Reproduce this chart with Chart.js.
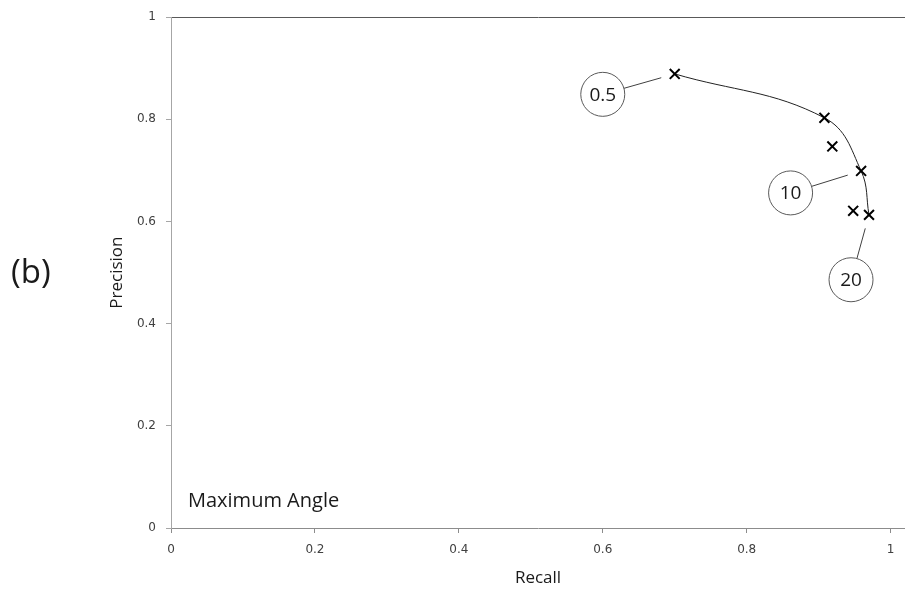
<!DOCTYPE html>
<html>
<head>
<meta charset="utf-8">
<script src="https://cdn.jsdelivr.net/npm/chart.js@4/dist/chart.umd.min.js"></script>
<style>
  body { margin: 0; background: #fff; }
  canvas { display: block; }
</style>
</head>
<body>
<canvas id="prChart" width="905" height="592"></canvas>
<script>
// datos
var recall = [0.700, 0.908, 0.959, 0.970];
var precision = [0.889, 0.803, 0.699, 0.613];
var extraRecall = [0.919, 0.948];
var extraPrecision = [0.747, 0.621];

var tickValues = [0, 0.2, 0.4, 0.6, 0.8, 1];

// etiquetas en circulo (posicion en unidades de datos)
var calloutLabels = ["0.5", "10", "20"];
var calloutX = [0.600, 0.861, 0.945];
var calloutY = [0.849, 0.656, 0.486];
var calloutTarget = [0, 2, 3];

var textFont = "'Open Sans', Lato, sans-serif";

function toPoints(xs, ys) {
  return xs.map(function (x, i) { return { x: x, y: ys[i] }; });
}

function fmtTick(v) {
  return String(Math.round(v * 10) / 10);
}

// anotaciones dibujadas a mano
var annotations = {
  id: "annotations",
  afterDatasetsDraw: function (chart) {
    var ctx = chart.ctx;
    var xs = chart.scales.x, ys = chart.scales.y;
    var area = chart.chartArea;
    var r = 22;

    ctx.save();
    calloutLabels.forEach(function (label, i) {
      var cx = xs.getPixelForValue(calloutX[i]);
      var cy = ys.getPixelForValue(calloutY[i]);
      var k = calloutTarget[i];
      var px = xs.getPixelForValue(recall[k]);
      var py = ys.getPixelForValue(precision[k]);
      var dx = px - cx, dy = py - cy;
      var len = Math.sqrt(dx * dx + dy * dy);
      var ux = dx / len, uy = dy / len;

      ctx.strokeStyle = "#404040";
      ctx.lineWidth = 1;
      ctx.beginPath();
      ctx.moveTo(cx + ux * r, cy + uy * r);
      ctx.lineTo(cx + ux * (len - 14), cy + uy * (len - 14));
      ctx.stroke();

      ctx.beginPath();
      ctx.arc(cx, cy, r, 0, Math.PI * 2);
      ctx.fillStyle = "#fff";
      ctx.fill();
      ctx.strokeStyle = "#595959";
      ctx.stroke();

      ctx.fillStyle = "#1a1a1a";
      ctx.font = "19px " + textFont;
      ctx.textAlign = "center";
      ctx.textBaseline = "middle";
      ctx.fillText(label, cx, cy + 1);
    });

    ctx.fillStyle = "#1a1a1a";
    ctx.font = "20px " + textFont;
    ctx.textAlign = "left";
    ctx.textBaseline = "alphabetic";
    ctx.fillText("Maximum Angle", area.left + 17, area.bottom - 21);

    ctx.font = "33px " + textFont;
    ctx.textBaseline = "middle";
    ctx.fillText("(b)", 11, (area.top + area.bottom) / 2 + 1);
    ctx.restore();
  }
};

var ctx = document.getElementById("prChart").getContext("2d");

var chart = new Chart(ctx, {
  type: "scatter",
  data: {
    datasets: [
      {
        label: "curva",
        data: toPoints(recall, precision),
        showLine: true,
        tension: 0.4,
        borderColor: "#222",
        borderWidth: 1,
        pointStyle: "crossRot",
        pointRadius: 7,
        pointBorderWidth: 2,
        pointBorderColor: "#000",
        pointBackgroundColor: "#000"
      },
      {
        label: "extra",
        data: toPoints(extraRecall, extraPrecision),
        showLine: false,
        pointStyle: "crossRot",
        pointRadius: 7,
        pointBorderWidth: 2,
        pointBorderColor: "#000",
        pointBackgroundColor: "#000"
      }
    ]
  },
  options: {
    responsive: false,
    devicePixelRatio: 1,
    animation: false,
    layout: { autoPadding: false, padding: { left: 100, right: 0, top: 16, bottom: 4 } },
    plugins: {
      legend: { display: false },
      tooltip: { enabled: false }
    },
    scales: {
      x: {
        type: "linear",
        min: 0,
        max: 1.02,
        afterBuildTicks: function (scale) {
          scale.ticks = tickValues.map(function (v) { return { value: v }; });
        },
        afterFit: function (scale) {
          scale.height = 60;
          scale.paddingLeft = 0;
          scale.paddingRight = 0;
        },
        border: { color: "#8c8c8c", width: 1 },
        grid: { drawOnChartArea: false, tickLength: 5, tickColor: "#8c8c8c" },
        ticks: {
          padding: 10,
          color: "#404040",
          font: { family: "'DejaVu Sans'", size: 12 },
          callback: fmtTick
        },
        title: {
          display: true,
          text: "Recall",
          color: "#1a1a1a",
          padding: { top: 0, bottom: 0 },
          font: { family: textFont, size: 17 }
        }
      },
      y: {
        type: "linear",
        min: 0,
        max: 1,
        afterBuildTicks: function (scale) {
          scale.ticks = tickValues.map(function (v) { return { value: v }; });
        },
        afterFit: function (scale) { scale.width = 71; },
        border: { color: "#a6a6a6", width: 1 },
        grid: {
          tickLength: 5,
          tickColor: "#a6a6a6",
          color: function (c) { return c.tick && c.tick.value === 1 ? "#595959" : "rgba(0,0,0,0)"; }
        },
        ticks: {
          padding: 10,
          color: "#404040",
          font: { family: "'DejaVu Sans'", size: 12 },
          callback: fmtTick
        },
        title: {
          display: true,
          text: "Precision",
          color: "#1a1a1a",
          padding: { top: 7, bottom: 0 },
          font: { family: textFont, size: 17 }
        }
      }
    }
  },
  plugins: [annotations]
});
</script>
</body>
</html>
